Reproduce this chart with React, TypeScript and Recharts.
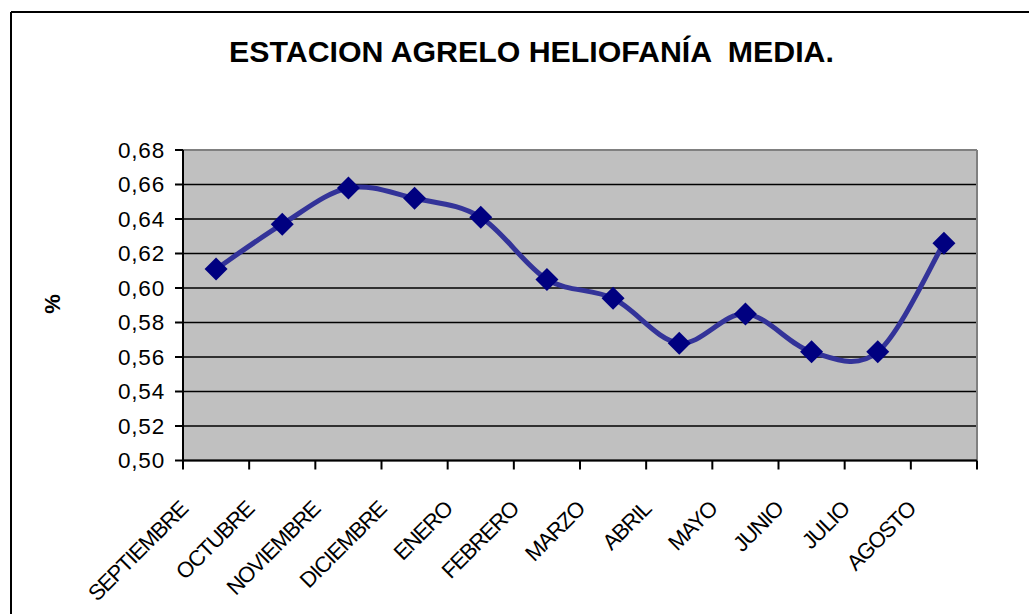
import { LineChart, Line, XAxis, YAxis, CartesianGrid, ReferenceLine } from 'recharts';

const months = ['SEPTIEMBRE', 'OCTUBRE', 'NOVIEMBRE', 'DICIEMBRE', 'ENERO', 'FEBRERO', 'MARZO', 'ABRIL', 'MAYO', 'JUNIO', 'JULIO', 'AGOSTO'];
const heliofania = [0.611, 0.637, 0.658, 0.652, 0.641, 0.605, 0.594, 0.568, 0.585, 0.563, 0.563, 0.626];
const yTicks = [0.5, 0.52, 0.54, 0.56, 0.58, 0.6, 0.62, 0.64, 0.66, 0.68];
// category boundaries: tick marks sit between months, labels in the middle
const xTicks = [0, 1, 2, 3, 4, 5, 6, 7, 8, 9, 10, 11, 12];

const data = months.map((month, i) => ({ pos: i + 0.5, month, value: heliofania[i] }));

const W = 1029;
const H = 614;
const Y_AXIS_W = 183;
const RIGHT = 52;
const PLOT_W = W - Y_AXIS_W - RIGHT;
const BAND = PLOT_W / months.length;
const FONT = '"Liberation Sans", Arial, sans-serif';

// Excel-like smoothed line: Catmull-Rom segments with 1/6 control points
const excelSmooth = (context: any) => {
  let pts: number[][] = [];
  return {
    areaStart() {},
    areaEnd() {},
    lineStart() {
      pts = [];
    },
    point(x: number, y: number) {
      pts.push([+x, +y]);
    },
    lineEnd() {
      if (!pts.length) return;
      context.moveTo(pts[0][0], pts[0][1]);
      for (let i = 0; i < pts.length - 1; i++) {
        const p0 = pts[i - 1] || pts[i];
        const p1 = pts[i];
        const p2 = pts[i + 1];
        const p3 = pts[i + 2] || p2;
        context.bezierCurveTo(
          p1[0] + (p2[0] - p0[0]) / 6,
          p1[1] + (p2[1] - p0[1]) / 6,
          p2[0] - (p3[0] - p1[0]) / 6,
          p2[1] - (p3[1] - p1[1]) / 6,
          p2[0],
          p2[1]
        );
      }
    },
  };
};

const Diamond = (props: any) => {
  const { cx, cy, index } = props;
  if (cx == null || cy == null) return <g key={index} />;
  const r = 11.5;
  return (
    <path
      key={index}
      d={`M${cx},${cy - r}L${cx + r},${cy}L${cx},${cy + r}L${cx - r},${cy}Z`}
      fill="#000080"
    />
  );
};

const MonthTick = ({ x, y, payload }: any) => {
  const label = months[payload.value];
  if (!label) return <g />;
  const ax = x + BAND / 2 - 27;
  const ay = y + 39;
  return (
    <text
      x={ax}
      y={ay}
      transform={`rotate(-45 ${ax} ${ay})`}
      textAnchor="end"
      fontSize={22}
      fontFamily={FONT}
      letterSpacing={-1.2}
      fill="#000"
    >
      {label}
    </text>
  );
};

export default function App() {
  return (
    <div style={{ position: 'absolute', left: 0, top: 0, width: W, height: H, overflow: 'hidden', background: '#fff', fontFamily: FONT }}>
      <LineChart width={W} height={H} data={data} margin={{ top: 150, right: RIGHT, left: 0, bottom: 0 }}>
        <CartesianGrid horizontal vertical={false} stroke="#000" strokeWidth={1.5} fill="#c0c0c0" fillOpacity={1} />
        <ReferenceLine y={0.68} stroke="#808080" strokeWidth={2} />
        <ReferenceLine x={12} stroke="#808080" strokeWidth={2} />
        <XAxis
          dataKey="pos"
          type="number"
          domain={[0, 12]}
          ticks={xTicks}
          interval={0}
          height={H - 150 - 310.5}
          stroke="#000"
          strokeWidth={2}
          tickSize={9}
          tick={<MonthTick />}
        />
        <YAxis
          type="number"
          domain={[0.5, 0.68]}
          ticks={yTicks}
          interval={0}
          width={Y_AXIS_W}
          stroke="#000"
          strokeWidth={2}
          tickSize={8}
          tickMargin={10}
          tickFormatter={(v: number) => v.toFixed(2).replace('.', ',')}
          tick={{ fill: '#000', fontSize: 22.5, fontFamily: FONT, letterSpacing: 0.8 }}
        />
        <Line
          dataKey="value"
          type={excelSmooth as any}
          stroke="#333399"
          strokeWidth={5}
          dot={(p: any) => <Diamond key={p.index} {...p} />}
          activeDot={false}
          isAnimationActive={false}
        />
      </LineChart>
      <svg width={W} height={H} style={{ position: 'absolute', left: 0, top: 0, pointerEvents: 'none' }}>
        <line x1={11} y1={12} x2={W} y2={12} stroke="#000" strokeWidth={2} />
        <line x1={11} y1={12} x2={11} y2={H} stroke="#000" strokeWidth={2} />
        <text
          x={531.5}
          y={62}
          textAnchor="middle"
          fontSize={30.3}
          fontWeight="bold"
          fontFamily={FONT}
          style={{ whiteSpace: 'pre' }}
        >
          {'ESTACION AGRELO HELIOFANÍA  MEDIA.'}
        </text>
        <text
          x={52}
          y={304}
          textAnchor="middle"
          dominantBaseline="central"
          fontSize={22}
          fontWeight="bold"
          fontFamily={FONT}
          transform="rotate(-90 52 304)"
        >
          %
        </text>
      </svg>
    </div>
  );
}
